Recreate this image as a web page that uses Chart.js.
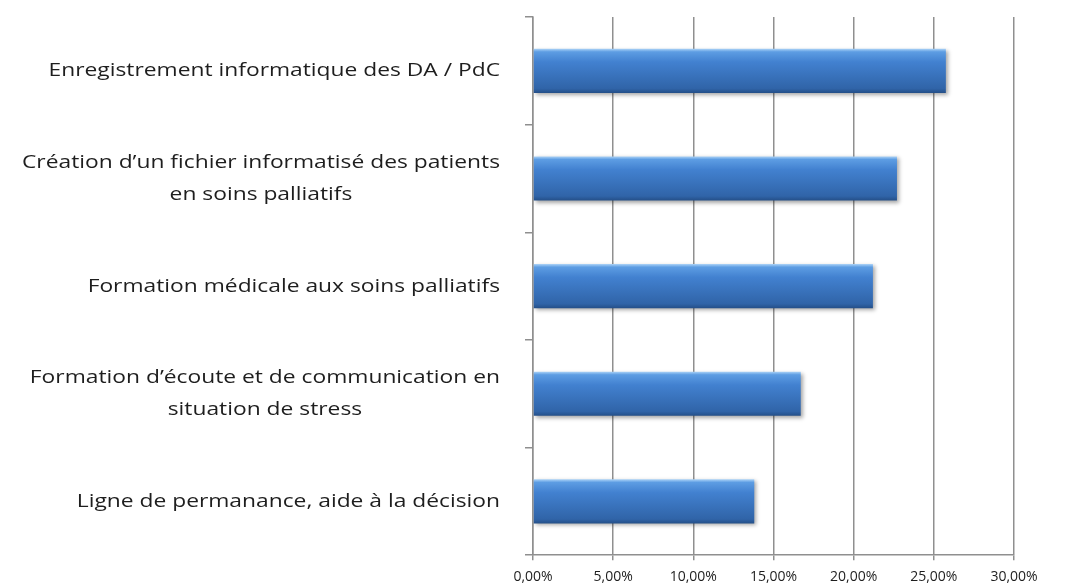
<!DOCTYPE html>
<html>
<head>
<meta charset="utf-8">
<script src="https://cdn.jsdelivr.net/npm/chart.js@4"></script>
<style>
  body { margin: 0; background: #fff; }
</style>
</head>
<body>
<canvas id="chart" width="1067" height="585"></canvas>
<script>
// Category labels (one array of lines per bar), top to bottom
const categories = [
    ['Enregistrement informatique des DA / PdC'],
    ['Création d’un fichier informatisé des patients', 'en soins palliatifs'],
    ['Formation médicale aux soins palliatifs'],
    ['Formation d’écoute et de communication en', 'situation de stress'],
    ['Ligne de permanance, aide à la décision']
];
const values = [25.75, 22.7, 21.2, 16.7, 13.8];   // percent
const xMin = 0;
const xMax = 30;
const xStep = 5;

const gridColor = '#8f8f8f';
const barPct = 0.41;

function barGradient(context) {
    const chart = context.chart;
    const yScale = chart.scales.y;
    if (!yScale || context.dataIndex == null) return '#3f7cc8';
    const center = yScale.getPixelForValue(context.dataIndex);
    const thick = Math.abs(yScale.getPixelForValue(1) - yScale.getPixelForValue(0)) * barPct;
    if (!Number.isFinite(center) || !Number.isFinite(thick) || thick <= 0) return '#3f7cc8';
    const g = chart.ctx.createLinearGradient(0, center - thick / 2, 0, center + thick / 2);
    g.addColorStop(0, '#acd3f7');
    g.addColorStop(0.07, '#5d9de3');
    g.addColorStop(0.3, '#4281d0');
    g.addColorStop(0.9, '#3064a8');
    g.addColorStop(1, '#244f88');
    return g;
}

// soft shadow under the bars
const shadowPlugin = {
    id: 'barShadow',
    beforeDatasetsDraw(chart) {
        const ctx = chart.ctx;
        ctx.save();
        ctx.shadowColor = 'rgba(0, 0, 0, 0.35)';
        ctx.shadowBlur = 4;
        ctx.shadowOffsetX = 2;
        ctx.shadowOffsetY = 2;
    },
    afterDatasetsDraw(chart) {
        chart.ctx.restore();
    }
};

// category labels: block right-aligned, lines centred inside the block
const labelPlugin = {
    id: 'catLabels',
    afterDraw(chart) {
        const ctx = chart.ctx;
        const yScale = chart.scales.y;
        const sx = 1.2;
        const lineH = 32;
        const rightX = yScale.left - 25;
        ctx.save();
        ctx.font = '19px "Open Sans"';
        ctx.fillStyle = '#1e1e1e';
        ctx.textBaseline = 'middle';
        ctx.textAlign = 'center';
        categories.forEach((lines, i) => {
            const yc = yScale.getPixelForValue(i);
            const blockW = Math.max(...lines.map(l => ctx.measureText(l).width)) * sx;
            const cx = rightX - blockW / 2;
            lines.forEach((line, k) => {
                const ly = yc + (k - (lines.length - 1) / 2) * lineH;
                ctx.save();
                ctx.translate(cx, ly);
                ctx.scale(sx, 1);
                ctx.fillText(line, 0, 0);
                ctx.restore();
            });
        });
        ctx.restore();
    }
};

const chart = new Chart(document.getElementById('chart').getContext('2d'), {
    type: 'bar',
    data: {
        labels: categories,
        datasets: [{
            data: values,
            backgroundColor: barGradient,
            borderWidth: 0,
            barPercentage: barPct,
            categoryPercentage: 1
        }]
    },
    options: {
        indexAxis: 'y',
        responsive: false,
        animation: false,
        layout: {
            padding: { left: 525, right: 53, top: 17, bottom: -8 }
        },
        plugins: {
            legend: { display: false },
            tooltip: { enabled: false }
        },
        scales: {
            x: {
                min: xMin,
                max: xMax,
                grid: {
                    color: gridColor,
                    lineWidth: 1.5,
                    tickLength: 5
                },
                border: { color: gridColor, width: 1.5 },
                ticks: {
                    stepSize: xStep,
                    padding: 8,
                    color: '#1e1e1e',
                    font: { family: 'Open Sans', size: 14 },
                    callback: v => v.toFixed(2).replace('.', ',') + '%'
                }
            },
            y: {
                offset: true,
                grid: {
                    offset: true,
                    drawOnChartArea: false,
                    drawTicks: true,
                    tickLength: 8,
                    color: gridColor,
                    lineWidth: 1.5
                },
                border: { color: gridColor, width: 1.5 },
                ticks: { display: false }
            }
        }
    },
    plugins: [shadowPlugin, labelPlugin]
});
// gradients depend on laid-out scales, so resolve them again
chart.update();
</script>
</body>
</html>
